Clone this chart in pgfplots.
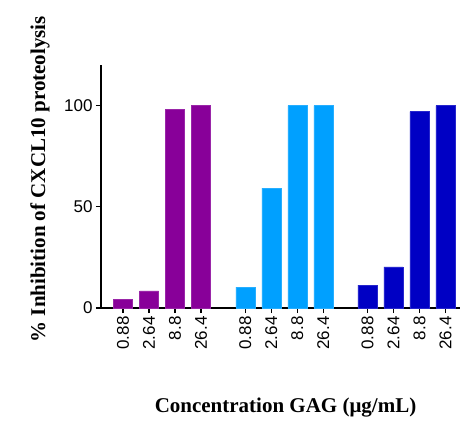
\documentclass[border=0pt]{standalone}
\usepackage{fontspec}
\setmainfont{Liberation Serif}
\newfontfamily\ticksans{Liberation Sans}
\usepackage{pgfplots}
\pgfplotsset{compat=1.18}
\definecolor{cpurple}{HTML}{880099}
\definecolor{clight}{HTML}{00A0FF}
\definecolor{cdark}{HTML}{0000C4}

\begin{document}
\begin{tikzpicture}
\path (-101pt,-113pt) rectangle (363pt,308pt);
\begin{axis}[at={(0,0)},anchor=south west,
 scale only axis,width=359pt,height=243pt,
 xmin=-0.85,xmax=12.96,ymin=0,ymax=120,
 axis lines*=left,axis line style={line width=1.4pt},
 major tick style={line width=1.2pt,black},major tick length=5pt,tick align=outside,
 ytick={0,50,100},
 xtick={0,1,2,3,4.7,5.7,6.7,7.7,9.4,10.4,11.4,12.4},
 xticklabels={0.88,2.64,8.8,26.4,0.88,2.64,8.8,26.4,0.88,2.64,8.8,26.4},
 xticklabel style={rotate=90,anchor=east,font=\ticksans\fontsize{17}{17}\selectfont},
 yticklabel style={font=\ticksans\fontsize{17}{17}\selectfont},
 /pgf/number format/assume math mode=true,
 ylabel={\textbf{\% Inhibition of CXCL10 proteolysis}},
 ylabel style={at={(axis description cs:-0.17,0.53)},anchor=center,font=\fontsize{21}{22}\selectfont},
 xlabel={\textbf{Concentration GAG (μg/mL)}},
 xlabel style={at={(axis description cs:0.514,-0.41)},anchor=center,font=\fontsize{21}{22}\selectfont},
 ybar,bar width=0.73,bar shift=0pt,clip=false]
\addplot[fill=cpurple,draw=cpurple!85!white] coordinates {(0,4.3) (1,8.4) (2,98.0) (3,100)};
\addplot[fill=clight,draw=clight!85!white] coordinates {(4.7,10.3) (5.7,59.2) (6.7,100) (7.7,100)};
\addplot[fill=cdark,draw=cdark!85!white] coordinates {(9.4,11.3) (10.4,20.3) (11.4,97.0) (12.4,100)};
\end{axis}
\end{tikzpicture}
\end{document}
